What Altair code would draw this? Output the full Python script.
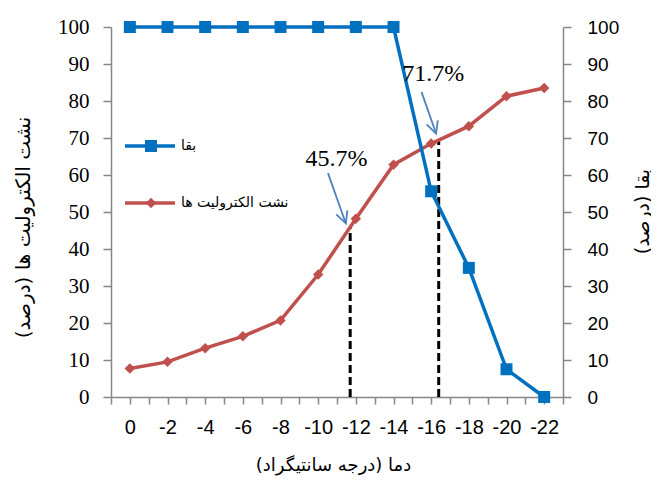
import altair as alt
import pandas as pd

# ---- data ----
temps = [0, -2, -4, -6, -8, -10, -12, -14, -16, -18, -20, -22]
leakage = [7.7, 9.5, 13.2, 16.4, 20.7, 33.1, 48.2, 62.8, 68.5, 73.2, 81.3, 83.5]
survival = [100, 100, 100, 100, 100, 100, 100, 100, 55.6, 34.9, 7.5, 0]

# dashed reference lines (temperature, top value)
ref_temp = [-11.7, -16.4]
ref_top = [45.7, 69.5]

# annotation arrows and labels
arrow_x = [-10.52, -15.49]
arrow_y = [60.5, 82.4]
arrow_x2 = [-11.47, -16.26]
arrow_y2 = [46.9, 71.2]
arrow_angle = [340, 341]
label_text = ["45.7%", "71.7%"]
label_x = [-10.97, -16.11]
label_y = [64.2, 87.4]

series_names = ["بقا", "نشت الکترولیت ها"]

BLUE = "#0070C0"
RED = "#C0504D"
ARROW = "#4F81BD"
GREY = "#868686"
SERIF = "Liberation Serif"
SANS = "Liberation Sans"
AR = "DejaVu Sans"

df = pd.DataFrame({"temp": temps, "leak": leakage, "surv": survival})
ref_df = pd.DataFrame({"temp": ref_temp, "top": ref_top, "zero": [0, 0]})
arr_df = pd.DataFrame({"x": arrow_x, "y": arrow_y, "x2": arrow_x2, "y2": arrow_y2,
                       "angle": arrow_angle})
lab_df = pd.DataFrame({"x": label_x, "y": label_y, "t": label_text})

xscale = alt.Scale(domain=[-23, 1], reverse=True, nice=False, zero=False)
yscale = alt.Scale(domain=[0, 100], nice=False, zero=True)

x_axis = alt.Axis(
    orient="bottom",
    values=list(range(-23, 2)),
    labelExpr="(datum.value <= 0 && datum.value % 2 == 0) ? ('' + datum.value) : ''",
    labelOverlap=False, labelFlush=False,
    grid=False, tickSize=7, tickColor=GREY, tickWidth=1.5,
    domainColor=GREY, domainWidth=1.5,
    labelFont=SANS, labelFontSize=20, labelColor="black", labelPadding=13,
    title="دما (درجه سانتیگراد)", titleFont=AR, titleFontSize=18,
    titleFontWeight="normal", titleColor="black",
    titleX=222, titleY=68, titleBaseline="middle", titleAlign="center",
)

left_axis = alt.Axis(
    orient="left", values=list(range(0, 101, 10)), grid=False,
    tickSize=8, tickColor=GREY, tickWidth=1.5, domainColor=GREY, domainWidth=1.5,
    labelFont=SERIF, labelFontSize=21, labelColor="black", labelPadding=14,
    title="نشت الکترولیت ها (درصد)", titleFont=AR, titleFontSize=20,
    titleFontWeight="normal", titleColor="black", titleAngle=270,
    titleX=-88, titleY=200, titleBaseline="middle", titleAlign="center",
)

right_axis = alt.Axis(
    orient="right", values=list(range(0, 101, 10)), grid=False,
    tickSize=8, tickColor=GREY, tickWidth=1.5, domainColor=GREY, domainWidth=1.5,
    labelFont=SANS, labelFontSize=19, labelColor="black", labelPadding=16,
    title="بقا (درصد)", titleFont=AR, titleFontSize=19,
    titleFontWeight="normal", titleColor="black", titleAngle=270,
    titleX=79, titleY=184, titleBaseline="middle", titleAlign="center",
)

X = alt.X("temp:Q", scale=xscale, axis=x_axis)

dashed = alt.Chart(ref_df).mark_rule(color="black", strokeWidth=3, strokeDash=[8, 4]).encode(
    x=X,
    y=alt.Y("zero:Q", scale=yscale, axis=None),
    y2="top:Q",
)

red = alt.Chart(df).mark_line(
    color=RED, strokeWidth=3.5,
    point=alt.OverlayMarkDef(shape="diamond", size=110, filled=True, color=RED, opacity=1),
).encode(
    x=X,
    y=alt.Y("leak:Q", scale=yscale, axis=left_axis),
)

blue = alt.Chart(df).mark_line(
    color=BLUE, strokeWidth=3.5,
    point=alt.OverlayMarkDef(shape="square", size=144, filled=True, color=BLUE, opacity=1),
).encode(
    x=X,
    y=alt.Y("surv:Q", scale=yscale, axis=right_axis),
)

arrows = alt.Chart(arr_df).mark_rule(color=ARROW, strokeWidth=1.8).encode(
    x=alt.X("x:Q", scale=xscale, axis=x_axis),
    x2="x2:Q",
    y=alt.Y("y:Q", scale=yscale, axis=None),
    y2="y2:Q",
)

heads = alt.Chart(arr_df).mark_point(
    shape="M-0.5,-1L0,0L0.5,-1", filled=False, color=ARROW, strokeWidth=1.8,
    size=560, opacity=1,
).encode(
    x=alt.X("x2:Q", scale=xscale, axis=x_axis),
    y=alt.Y("y2:Q", scale=yscale, axis=None),
    angle=alt.Angle("angle:Q", scale=None),
)

labels = alt.Chart(lab_df).mark_text(
    font=SERIF, fontSize=24, color="black", align="center", baseline="middle",
).encode(
    x=alt.X("x:Q", scale=xscale, axis=x_axis),
    y=alt.Y("y:Q", scale=yscale, axis=None),
    text="t:N",
)

# ---- manual legend inside the plot ----
one = alt.Data(values=[{"k": 1}])
leg_layers = []
for name, col, shp, sz, ypix in [(series_names[0], BLUE, "square", 144, 119),
                                 (series_names[1], RED, "diamond", 110, 176)]:
    leg_layers.append(alt.Chart(one).mark_rule(color=col, strokeWidth=3.5).encode(
        x=alt.value(14), x2=alt.value(64), y=alt.value(ypix)))
    leg_layers.append(alt.Chart(one).mark_point(shape=shp, size=sz, filled=True,
                                                color=col, opacity=1).encode(
        x=alt.value(40), y=alt.value(ypix)))
    leg_layers.append(alt.Chart(one).mark_text(font=AR, fontSize=14, color="black",
                                               align="left", baseline="middle").encode(
        x=alt.value(70), y=alt.value(ypix), text=alt.value(name)))

chart = alt.layer(dashed, red, blue, arrows, heads, labels, *leg_layers).resolve_scale(
    y="independent", x="shared"
).properties(
    width=452, height=370,
    autosize=alt.AutoSizeParams(type="none"),
    padding={"left": 103, "top": 19, "right": 88, "bottom": 82},
).configure_view(stroke=None)

chart.save("out.html", embed_options={"renderer": "svg", "actions": False})
